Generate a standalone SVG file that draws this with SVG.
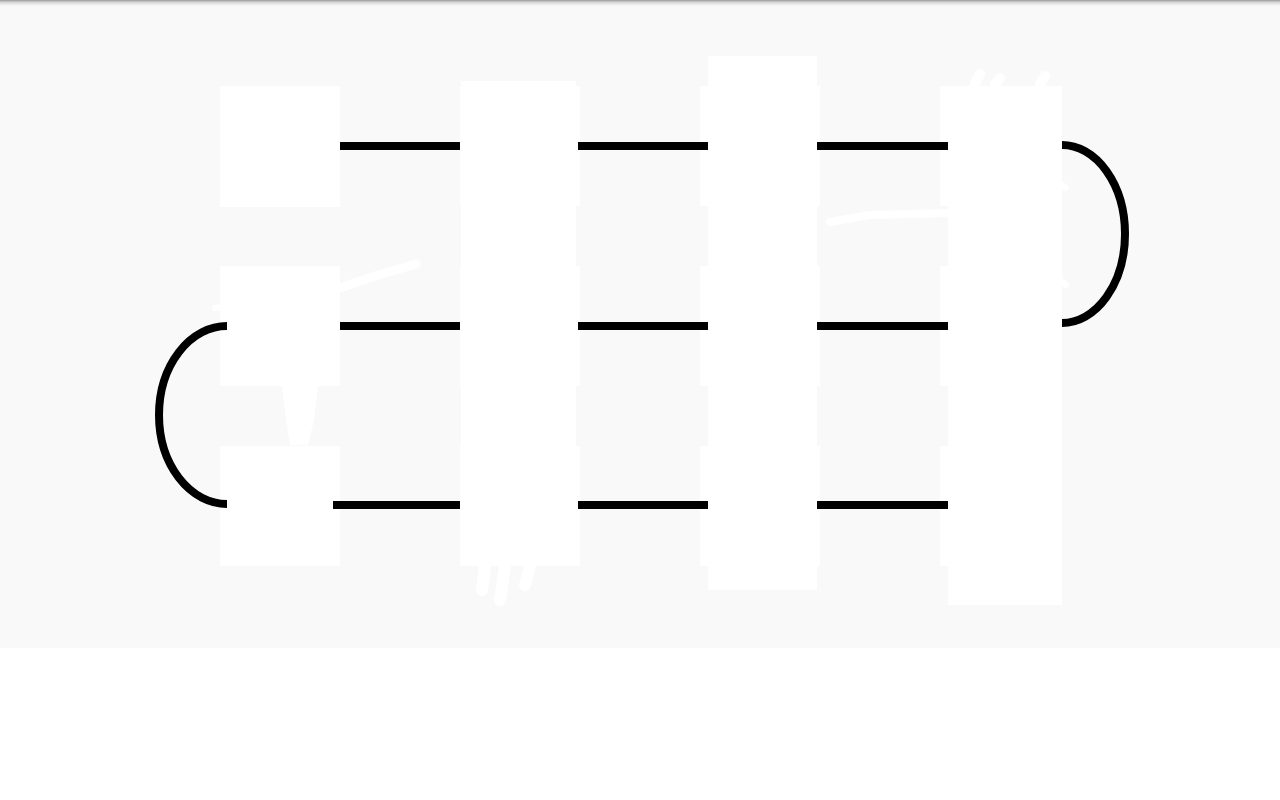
<svg xmlns="http://www.w3.org/2000/svg" width="1280" height="800" viewBox="0 0 1280 800">
<defs>
<linearGradient id="shadow" x1="0" y1="0" x2="0" y2="1">
<stop offset="0" stop-color="#9a9a9a"/>
<stop offset="0.4" stop-color="#d8d8d8"/>
<stop offset="1" stop-color="#f9f9f9"/>
</linearGradient>
</defs>
<style>
.node{fill:#ffffff}
.band{fill:#ffffff}
.wire{stroke:#000000;stroke-width:8;fill:none}
.scrib{stroke:#ffffff;fill:none;stroke-linecap:round;stroke-linejoin:round}
</style>
<rect x="0" y="0" width="1280" height="800" fill="#ffffff"/>
<rect x="0" y="0" width="1280" height="648" fill="#f9f9f9"/>
<rect x="0" y="0" width="1280" height="6" fill="url(#shadow)"/>

<g id="n-r1c1"><rect class="node" x="220" y="86" width="120" height="121"/></g>
<g id="n-r2c1"><rect class="node" x="220" y="266" width="120" height="120"/></g>
<g id="n-r3c1"><rect class="node" x="220" y="446" width="120" height="120"/></g>

<g id="n-col2">
<rect class="band" x="461" y="81" width="115" height="485"/>
<rect class="node" x="460" y="86" width="120" height="120"/>
<rect class="node" x="460" y="266" width="120" height="120"/>
<rect class="node" x="460" y="446" width="120" height="120"/>
</g>
<g id="n-col3">
<rect class="band" x="708" y="56" width="109" height="534"/>
<rect class="node" x="700" y="86" width="120" height="120"/>
<rect class="node" x="700" y="266" width="120" height="120"/>
<rect class="node" x="700" y="446" width="120" height="120"/>
</g>
<g id="n-col4">
<rect class="band" x="948" y="86" width="114" height="519"/>
<rect class="node" x="940" y="86" width="120" height="120"/>
<rect class="node" x="940" y="266" width="120" height="120"/>
<rect class="node" x="940" y="446" width="120" height="120"/>
</g>

<g id="scribbles">
<path class="scrib" stroke-width="9" d="M 340 288 L 375 276 L 416 264"/>
<path class="scrib" stroke-width="8" d="M 830 222 L 870 215 L 945 213"/>
<path fill="#ffffff" d="M 282 386 L 318 386 L 314 420 L 308 445 L 290 445 L 286 420 Z"/>
<path class="scrib" stroke-width="12" d="M 485 566 L 482 590 M 505 566 L 500 600 M 530 566 L 525 585"/>
<path class="scrib" stroke-width="10" d="M 975 84 L 980 74 M 995 84 L 1000 78 M 1040 84 L 1045 76"/>
<path class="scrib" stroke-width="6" d="M 1062 185 L 1066 188 M 1062 282 L 1066 285"/>
<path class="scrib" stroke-width="6" d="M 215 308 L 230 306"/>
</g>

<g id="connectors">
<line class="wire" x1="340" y1="146" x2="460" y2="146"/>
<line class="wire" x1="578" y1="146" x2="708" y2="146"/>
<line class="wire" x1="817" y1="146" x2="948" y2="146"/>
<line class="wire" x1="340" y1="326" x2="460" y2="326"/>
<line class="wire" x1="578" y1="326" x2="708" y2="326"/>
<line class="wire" x1="817" y1="326" x2="948" y2="326"/>
<line class="wire" x1="333" y1="505" x2="460" y2="505"/>
<line class="wire" x1="578" y1="505" x2="708" y2="505"/>
<line class="wire" x1="817" y1="505" x2="948" y2="505"/>
<path class="wire" d="M 1062 145 A 63 89 0 0 1 1062 323"/>
<path class="wire" d="M 227 326 A 68 89 0 0 0 227 504"/>
</g>
</svg>
